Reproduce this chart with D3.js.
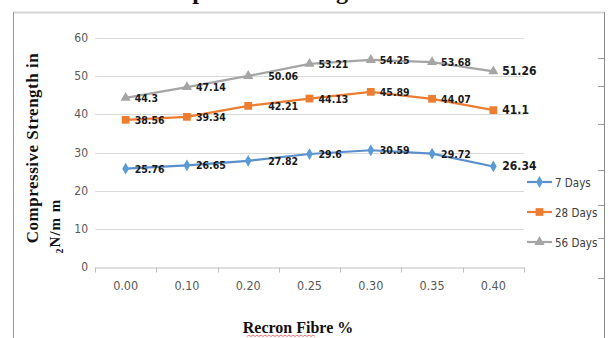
<!DOCTYPE html>
<meta charset="utf-8">
<style>
  body { margin: 0; background: #fff; }
  .tick-lbl { font-family: "Liberation Sans Narrow", "DejaVu Sans Condensed", sans-serif; fill: #595959; }
  .dlabel { font-family: "Liberation Sans Narrow", "DejaVu Sans Condensed", sans-serif; font-weight: bold; fill: #1a1a1a; }
  .serif-b { font-family: "Liberation Serif", "DejaVu Serif", serif; font-weight: bold; fill: #111; }
</style>
<body>
<svg id="chart" width="609" height="338"></svg>
<script src="https://d3js.org/d3.v7.min.js"></script>
<script>
var fibre = ["0.00", "0.10", "0.20", "0.25", "0.30", "0.35", "0.40"];
var days7 = [25.76, 26.65, 27.82, 29.6, 30.59, 29.72, 26.34];
var days28 = [38.56, 39.34, 42.21, 44.13, 45.89, 44.07, 41.1];
var days56 = [44.3, 47.14, 50.06, 53.21, 54.25, 53.68, 51.26];
var seriesNames = ["7 Days", "28 Days", "56 Days"];
var yTicks = [0, 10, 20, 30, 40, 50, 60];

var series = [
  {name: seriesNames[0], values: days7, color: "#5b9bd5", line: "#5a8fcb", shape: d3.symbolDiamond, size: 40},
  {name: seriesNames[1], values: days28, color: "#ed7d31", line: "#ed7d31", shape: d3.symbolSquare, size: 60},
  {name: seriesNames[2], values: days56, color: "#a5a5a5", line: "#a5a5a5", shape: d3.symbolTriangle, size: 45}
];

var svg = d3.select("#chart");

// page frame bits
svg.append("line").attr("x1", 13).attr("x2", 604).attr("y1", 12.5).attr("y2", 12.5)
  .attr("stroke", "#d6d6d6").attr("stroke-width", 2);
svg.append("line").attr("x1", 13.5).attr("x2", 13.5).attr("y1", 12).attr("y2", 338)
  .attr("stroke", "#9a9a9a").attr("stroke-width", 1);
svg.append("line").attr("x1", 604.5).attr("x2", 604.5).attr("y1", 12).attr("y2", 338)
  .attr("stroke", "#8a8a8a").attr("stroke-width", 1);
[58, 86, 124, 170, 205, 238, 278].forEach(function (ty) {
  svg.append("line").attr("x1", 598).attr("x2", 604).attr("y1", ty + 0.5).attr("y2", ty + 0.5)
    .attr("stroke", "#9a9a9a");
});

// cut-off title at top
svg.append("text").attr("class", "serif-b").attr("x", 143).attr("y", -1)
  .style("font-size", "24px").text("Compressive Strength");

var x = d3.scaleBand().domain(fibre).range([95, 524]);
var y = d3.scaleLinear().domain([0, 60]).range([267, 38]);

// gridlines
svg.append("g").selectAll("line").data(yTicks.slice(1)).enter().append("line")
  .attr("x1", 95).attr("x2", 524)
  .attr("y1", function (d) { return Math.round(y(d)) + 0.5; })
  .attr("y2", function (d) { return Math.round(y(d)) + 0.5; })
  .attr("stroke", "#d9d9d9").attr("stroke-width", 1.2);

// y axis labels
svg.append("g").selectAll("text").data(yTicks).enter().append("text")
  .attr("class", "tick-lbl")
  .attr("x", 88).attr("y", function (d) { return y(d) + 4; })
  .attr("text-anchor", "end").style("font-size", "12px")
  .text(function (d) { return d; });

// x axis
var xAxis = svg.append("g").attr("transform", "translate(0," + (Math.round(y(0)) + 0.5) + ")")
  .call(d3.axisBottom(x).tickSize(0).tickPadding(14));
xAxis.select(".domain").attr("stroke", "#bfbfbf").attr("stroke-width", 1.2);
xAxis.selectAll(".tick text").attr("class", "tick-lbl").style("font-size", "12.5px").attr("fill", null);
var bounds = fibre.map(function (d) { return x(d); }).concat([x.range()[1]]);
xAxis.selectAll(".bnd").data(bounds).enter().append("line")
  .attr("x1", function (d) { return Math.round(d) + 0.5; })
  .attr("x2", function (d) { return Math.round(d) + 0.5; })
  .attr("y1", 0).attr("y2", 5).attr("stroke", "#bfbfbf");

function cx(i) { return x(fibre[i]) + x.bandwidth() / 2; }

var line = d3.line().x(function (d, i) { return cx(i); }).y(function (d) { return y(d); });

series.forEach(function (s) {
  svg.append("path").datum(s.values).attr("d", line)
    .attr("fill", "none").attr("stroke", s.line).attr("stroke-width", 2.2);
  svg.append("g").selectAll("path").data(s.values).enter().append("path")
    .attr("d", d3.symbol().type(s.shape).size(s.size))
    .attr("transform", function (d, i) { return "translate(" + cx(i) + "," + y(d) + ")"; })
    .attr("fill", s.color);
  svg.append("g").selectAll("text").data(s.values).enter().append("text")
    .attr("class", "dlabel")
    .attr("x", function (d, i) { return cx(i) + (i === 2 ? 20 : 9); })
    .attr("y", function (d) { return y(d) + 4; })
    .style("font-size", function (d, i) { return i === 6 ? "12px" : "10.5px"; })
    .text(function (d) { return d; });
});

// legend
var lg = svg.append("g").selectAll("g").data(series).enter().append("g")
  .attr("transform", function (d, i) { return "translate(527," + (182 + i * 30) + ")"; });
lg.append("line").attr("x1", 0).attr("x2", 25).attr("stroke", function (d) { return d.line; })
  .attr("stroke-width", 2.2);
lg.append("path").attr("d", function (d) { return d3.symbol().type(d.shape).size(d.size)(); })
  .attr("transform", "translate(12.5,0)").attr("fill", function (d) { return d.color; });
lg.append("text").attr("x", 28).attr("y", 4.5).attr("class", "tick-lbl")
  .style("font-size", "11.5px").style("fill", "#404040")
  .text(function (d) { return d.name; });

// y axis title
svg.append("text").attr("class", "serif-b")
  .attr("transform", "translate(38,148) rotate(-90)")
  .attr("text-anchor", "middle").style("font-size", "17px").style("letter-spacing", "0.5px")
  .text("Compressive Strength in");
var yt2 = svg.append("text").attr("class", "serif-b")
  .attr("transform", "translate(60,226) rotate(-90)")
  .attr("text-anchor", "middle").style("font-size", "15px").style("letter-spacing", "1px");
yt2.append("tspan").style("font-size", "10px").attr("dy", 3).text("2");
yt2.append("tspan").attr("dy", -3).text("N/m m");

// x axis title
svg.append("text").attr("class", "serif-b").attr("x", 298).attr("y", 333)
  .attr("text-anchor", "middle").style("font-size", "16px").text("Recron Fibre %");
var wave = "M247,336.5";
for (var wx = 247; wx < 315; wx += 4) { wave += " l2,-1.5 l2,1.5"; }
svg.append("path").attr("d", wave).attr("fill", "none").attr("stroke", "#e05050").attr("stroke-width", 0.8);
</script>
</body>
